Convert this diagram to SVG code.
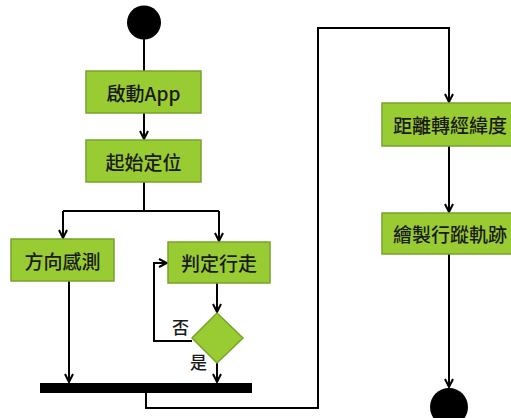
<svg xmlns="http://www.w3.org/2000/svg" width="511" height="418" viewBox="0 0 511 418">
<style>
.box{fill:#99cc33;stroke:#78a22a;stroke-width:1.5}
.t{font-family:"Noto Sans CJK TC","Noto Sans",sans-serif;font-size:19px;font-weight:500;fill:#1a1a1a;text-anchor:middle;dominant-baseline:central}
.lbl{font-family:"Noto Sans CJK TC",sans-serif;font-size:17px;font-weight:500;fill:#1a1a1a}
.c{fill:none;stroke:#000;stroke-width:2}
</style>
<defs>
<marker id="a" viewBox="0 0 10 10" refX="9" refY="5" markerWidth="10" markerHeight="10" markerUnits="userSpaceOnUse" orient="auto">
<path d="M1,1 L9,5 L1,9" fill="none" stroke="#000" stroke-width="2"/>
</marker>
</defs>
<g id="connectors">
<path class="c" d="M144,39 V71"/>
<path class="c" d="M144,113 V139" marker-end="url(#a)"/>
<path class="c" d="M144,182 V211 M63,211 H219"/>
<path class="c" d="M63,211 V238" marker-end="url(#a)"/>
<path class="c" d="M219,211 V241" marker-end="url(#a)"/>
<path class="c" d="M217,283 V312" marker-end="url(#a)"/>
<path class="c" d="M192,341 H154 V263 H167" marker-end="url(#a)"/>
<path class="c" d="M69,281 V382" marker-end="url(#a)"/>
<path class="c" d="M217,363 V382" marker-end="url(#a)"/>
<path class="c" d="M146,393 V408 H318 V28 H449 V102" marker-end="url(#a)"/>
<path class="c" d="M449,146 V212" marker-end="url(#a)"/>
<path class="c" d="M449,254 V387" marker-end="url(#a)"/>
</g>
<g id="start"><circle cx="144" cy="22.5" r="17" fill="#000"/></g>
<g id="n1"><rect class="box" x="86" y="71" width="115" height="42"/><text class="t" x="143.5" y="92">啟動App</text></g>
<g id="n2"><rect class="box" x="86" y="140" width="115" height="42"/><text class="t" x="143.5" y="161">起始定位</text></g>
<g id="n3"><rect class="box" x="11" y="239" width="103" height="42"/><text class="t" x="62.5" y="260">方向感測</text></g>
<g id="n4"><rect class="box" x="168" y="242" width="102" height="41"/><text class="t" x="219" y="262.5">判定行走</text></g>
<g id="decision"><polygon class="box" points="217,313 243,338 217,363 192,338"/></g>
<g id="lbl-no"><text class="lbl" x="172" y="334">否</text></g>
<g id="lbl-yes"><text class="lbl" x="190" y="369">是</text></g>
<g id="join"><rect x="40" y="383" width="212" height="10" fill="#000"/></g>
<g id="n5"><rect class="box" x="382" y="103" width="136" height="43"/><text class="t" x="450" y="124.5">距離轉經緯度</text></g>
<g id="n6"><rect class="box" x="382" y="213" width="136" height="41"/><text class="t" x="450" y="233.5">繪製行蹤軌跡</text></g>
<g id="end"><circle cx="449" cy="407" r="19" fill="#000"/></g>
</svg>
